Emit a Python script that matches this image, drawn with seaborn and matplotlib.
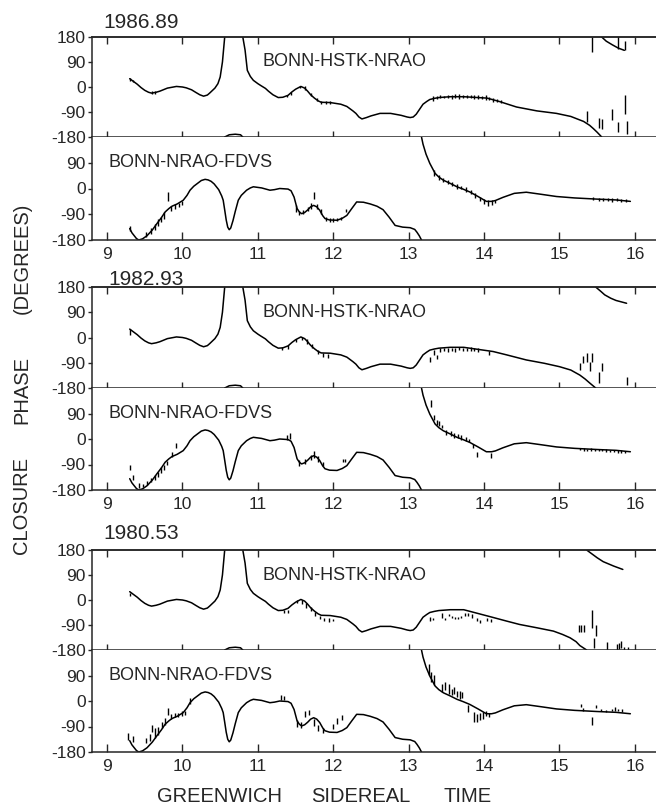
import numpy as np
import pandas as pd
import matplotlib
matplotlib.use("Agg")
import matplotlib.pyplot as plt
import seaborn as sns

# ---------------- data ----------------
epochs = ["1986.89", "1982.93", "1980.53"]
x_ticks = [9, 10, 11, 12, 13, 14, 15, 16]
top_yticks = [180, 90, 0, -90, -180]
bot_yticks = [90, 0, -90, -180]

# model closure phase BONN-HSTK-NRAO (unwrapped, deg), common part
hstk_t = [9.30, 9.35, 9.40, 9.45, 9.50, 9.55, 9.59, 9.65, 9.70, 9.80, 9.92, 10.00, 10.05, 10.12,
          10.18, 10.23, 10.28, 10.33, 10.36, 10.43, 10.47, 10.50, 10.53, 10.56, 10.62, 10.70, 10.77,
          10.80, 10.83, 10.86, 10.90, 10.94, 11.00, 11.04, 11.10, 11.14, 11.20, 11.27, 11.33, 11.40,
          11.45, 11.50, 11.57, 11.62, 11.66, 11.70, 11.75, 11.80, 11.84, 11.96, 12.10, 12.18, 12.22,
          12.26, 12.30, 12.34, 12.38, 12.44, 12.50, 12.62, 12.76, 12.90, 12.98, 13.02, 13.06, 13.10,
          13.15, 13.19, 13.24, 13.28, 13.34, 13.40, 13.55, 13.73]
hstk_p = [30, 20, 10, -2, -12, -19, -22, -19, -15, -4, 2, 0, -3, -10,
          -20, -28, -33, -29, -22, -4, 12, 36, 90, 180, 188, 190, 188,
          180, 133, 60, 38, 24, 12, 5, -5, -15, -28, -38, -37, -30,
          -18, -8, 2, -4, -15, -28, -40, -50, -55, -56, -62, -70, -78,
          -86, -95, -108, -115, -110, -104, -95, -95, -102, -108, -110, -108, -98,
          -78, -62, -52, -45, -41, -38, -35, -35]
# epoch-dependent tails of the HSTK model
hstk_tail_t_1986 = [14.04, 14.20, 14.43, 14.70, 14.96, 15.15, 15.32, 15.40, 15.45, 15.50, 15.56,
                    15.62, 15.70, 15.78, 15.86]
hstk_tail_p_1986 = [-40, -52, -72, -86, -95, -106, -124, -138, -150, -163, -180,
                    -195, -208, -220, -228]
hstk_tail_t_1982 = [14.12, 14.30, 14.56, 14.80, 15.00, 15.15, 15.27, 15.34, 15.40, 15.48, 15.55,
                    15.60, 15.68, 15.75, 15.89]
hstk_tail_p_1982 = [-50, -62, -80, -92, -104, -116, -134, -148, -162, -180, -196,
                    -208, -220, -228, -238]
hstk_tail_t_1980 = [14.08, 14.30, 14.47, 14.70, 14.92, 15.04, 15.14, 15.22, 15.27, 15.36, 15.42,
                    15.50, 15.58, 15.72, 15.84]
hstk_tail_p_1980 = [-60, -76, -88, -100, -112, -124, -136, -150, -164, -180, -192,
                    -208, -222, -238, -250]

# model closure phase BONN-NRAO-FDVS (unwrapped, deg)
fdvs_t = [9.30, 9.33, 9.36, 9.39, 9.42, 9.47, 9.53, 9.60, 9.66, 9.72, 9.77, 9.82, 9.86, 9.93,
          10.01, 10.06, 10.10, 10.15, 10.20, 10.25, 10.30, 10.34, 10.38, 10.42, 10.45, 10.48, 10.50,
          10.52, 10.54, 10.56, 10.58, 10.60, 10.62, 10.64, 10.67, 10.70, 10.74, 10.78, 10.85, 10.90,
          10.94, 11.05, 11.16, 11.22, 11.29, 11.40, 11.44, 11.48, 11.52, 11.55, 11.58, 11.62, 11.66,
          11.70, 11.74, 11.78, 11.82, 11.86, 11.89, 11.95, 12.05, 12.12, 12.18, 12.24, 12.31, 12.40,
          12.49, 12.58, 12.66, 12.74, 12.82, 12.92, 13.02, 13.08, 13.11, 13.14, 13.17, 13.19, 13.23,
          13.28, 13.35, 13.40, 13.46, 13.55, 13.64, 13.72, 13.81, 13.92, 14.03, 14.10, 14.15, 14.25,
          14.40, 14.56, 14.75, 14.96, 15.20, 15.49, 15.75, 15.94]
fdvs_p = [-140, -155, -165, -175, -180, -176, -165, -145, -123, -102, -82, -70, -62, -54,
          -41, -24, -6, 8, 18, 28, 32, 30, 25, 16, 6, -4, -15,
          -26, -41, -75, -110, -135, -144, -138, -112, -80, -41, -24, -6, 2,
          6, 2, -6, -4, 0, -2, -8, -30, -70, -82, -88, -84, -75,
          -64, -59, -64, -76, -95, -105, -110, -111, -104, -94, -72, -47, -48,
          -54, -62, -74, -100, -129, -135, -137, -143, -153, -165, -180, -205, -240,
          -272, -307, -320, -331, -342, -354, -362, -372, -388, -405, -405, -402, -391,
          -377, -373, -380, -388, -393, -397, -400, -405]

# measured closure phases (time, phase, half error bar)
d86h_t = [9.31, 9.35, 9.60, 9.64, 11.38, 11.44, 11.56, 11.62, 11.70, 11.78, 11.84, 11.90, 11.96,
          13.32, 13.37, 13.42, 13.47, 13.52, 13.57, 13.62, 13.67, 13.72, 13.77, 13.82, 13.87, 13.92,
          13.97, 14.02, 14.07, 14.12, 14.17, 14.22, 15.36, 15.43, 15.53, 15.56, 15.70, 15.77, 15.77,
          15.87, 15.87, 15.90]
d86h_p = [28, 22, -20, -19, -32, -24, 0, -4, -28, -46, -56, -56, -55,
          -42, -38, -34, -36, -33, -36, -32, -34, -35, -33, -34, -36, -35,
          -37, -38, -42, -46, -48, -52, -106, 152, -128, -133, -98, -145, 160,
          -62, 150, -145]
d86h_e = [6, 5, 5, 5, 5, 5, 5, 6, 6, 6, 5, 5, 5,
          8, 6, 7, 5, 6, 7, 6, 8, 6, 6, 7, 6, 8,
          6, 9, 6, 7, 6, 6, 20, 27, 18, 18, 20, 18, 22,
          35, 15, 23]

d86f_t = [9.30, 9.52, 9.58, 9.63, 9.68, 9.72, 9.76, 9.81, 9.85, 9.90, 9.95, 10.00, 11.50, 11.55,
          11.60, 11.66, 11.70, 11.74, 11.78, 11.84, 11.90, 11.95, 12.00, 12.05, 12.10, 12.17, 13.33,
          13.40, 13.46, 13.52, 13.58, 13.64, 13.70, 13.76, 13.82, 13.88, 13.94, 14.00, 14.05, 14.10,
          14.15, 15.45, 15.52, 15.58, 15.64, 15.70, 15.76, 15.82, 15.88]
d86f_p = [-140, -160, -148, -135, -120, -108, -95, -27, -70, -62, -58, -50, -70, -85,
          -82, -72, -62, -24, -62, -80, -106, -110, -110, -108, -104, -76, 55,
          38, 30, 22, 15, 8, 3, -4, -12, -24, -36, -46, -50, -48,
          -45, -36, -37, -38, -37, -40, -39, -41, -42]
d86f_e = [8, 8, 10, 10, 12, 10, 12, 15, 10, 8, 8, 8, 12, 8,
          8, 8, 10, 12, 8, 8, 8, 6, 6, 6, 6, 6, 10,
          8, 6, 8, 6, 8, 6, 8, 6, 8, 8, 8, 10, 8,
          6, 5, 5, 6, 5, 6, 5, 6, 5]

d82h_t = [9.30, 11.32, 11.40, 11.50, 11.58, 11.65, 11.72, 11.80, 11.87, 11.93, 13.28, 13.33, 13.37,
          13.42, 13.47, 13.52, 13.57, 13.62, 13.67, 13.72, 13.77, 13.82, 13.87, 13.92, 14.07, 15.27,
          15.31, 15.36, 15.40, 15.43, 15.53, 15.57, 15.90]
d82h_p = [20, -40, -34, -10, -4, -14, -30, -52, -62, -66, -77, -53, -70,
          -44, -42, -45, -42, -44, -40, -42, -43, -41, -44, -45, -55, -104,
          -79, -71, -102, -71, -142, -104, -155]
d82h_e = [10, 5, 6, 6, 6, 8, 8, 8, 8, 6, 9, 9, 6,
          6, 5, 6, 5, 6, 5, 6, 5, 6, 5, 6, 6, 12,
          13, 15, 16, 15, 20, 14, 15]

d82f_t = [9.31, 9.35, 9.42, 9.48, 9.53, 9.58, 9.63, 9.68, 9.72, 9.76, 9.80, 9.86, 9.92, 11.38,
          11.42, 11.55, 11.62, 11.70, 11.75, 11.80, 11.86, 12.13, 12.16, 13.29, 13.33, 13.37, 13.40,
          13.44, 13.50, 13.56, 13.60, 13.65, 13.69, 13.76, 13.80, 13.85, 13.91, 14.09, 15.27, 15.32,
          15.37, 15.42, 15.47, 15.52, 15.57, 15.62, 15.67, 15.72, 15.77, 15.82, 15.87]
d82f_p = [-100, -136, -165, -165, -155, -145, -135, -125, -110, -100, -85, -55, -23, 5,
          10, -85, -80, -65, -55, -70, -88, -76, -76, 125, 75, 58, 55,
          45, 22, 18, 12, 12, 5, 0, -5, -25, -55, -58, -36, -37,
          -38, -37, -39, -40, -38, -41, -42, -42, -44, -44, -45]
d82f_e = [8, 8, 8, 6, 6, 8, 8, 8, 10, 10, 8, 10, 8, 10,
          10, 10, 8, 10, 12, 10, 8, 6, 6, 12, 9, 9, 9,
          6, 9, 9, 8, 7, 8, 7, 6, 8, 8, 8, 4, 4,
          4, 4, 4, 4, 4, 4, 4, 4, 4, 4, 4]

d80h_t = [9.30, 11.35, 11.40, 11.52, 11.58, 11.64, 11.70, 11.76, 11.82, 11.88, 11.94, 12.00, 13.28,
          13.32, 13.44, 13.48, 13.53, 13.57, 13.61, 13.66, 13.70, 13.75, 13.79, 13.84, 13.90, 13.95,
          14.04, 14.09, 15.26, 15.29, 15.32, 15.43, 15.46, 15.49, 15.63, 15.76, 15.79, 15.81, 15.85,
          15.91]
d80h_p = [20, -42, -40, -5, -8, -20, -32, -50, -62, -70, -72, -72, -67,
          -68, -57, -68, -55, -60, -65, -64, -60, -52, -52, -57, -70, -76,
          -70, -73, -102, -102, -102, -69, -156, -110, -165, -170, -165, -160, -176,
          -178]
d80h_e = [6, 5, 5, 6, 8, 8, 8, 8, 6, 6, 6, 5, 7,
          5, 9, 5, 4, 4, 4, 4, 4, 5, 4, 6, 5, 5,
          5, 6, 12, 12, 12, 33, 18, 20, 15, 10, 12, 14, 8,
          8]

d80f_t = [9.28, 9.35, 9.52, 9.57, 9.59, 9.64, 9.68, 9.73, 9.77, 9.81, 9.85, 9.90, 9.94, 9.99,
          10.03, 10.10, 11.30, 11.35, 11.52, 11.57, 11.63, 11.68, 11.75, 11.80, 11.86, 12.00, 12.05,
          12.12, 13.27, 13.30, 13.33, 13.44, 13.48, 13.53, 13.57, 13.60, 13.64, 13.68, 13.71, 13.79,
          13.86, 13.90, 13.94, 13.98, 14.03, 14.07, 15.28, 15.31, 15.43, 15.49, 15.55, 15.62, 15.69,
          15.73, 15.77, 15.83]
d80f_p = [-126, -133, -140, -130, -97, -113, -105, -85, -72, -37, -55, -50, -50, -45,
          -42, 0, 12, 10, -78, -85, -45, -40, -75, -95, -105, -90, -70,
          -58, 112, 85, 75, 46, 52, 42, 32, 38, 25, 20, 22, -27,
          -56, -60, -55, -50, -45, -50, -15, -30, -70, -20, -32, -34, -32,
          -28, -32, -34]
d80f_e = [12, 10, 9, 12, 12, 18, 15, 12, 12, 12, 10, 8, 8, 8,
          6, 9, 8, 8, 12, 10, 10, 10, 12, 12, 8, 10, 10,
          8, 20, 18, 18, 15, 14, 18, 12, 12, 12, 14, 10, 12,
          18, 14, 12, 12, 8, 8, 6, 6, 14, 5, 5, 4, 5,
          7, 5, 6]


# ---------------- helpers ----------------
def wrap_segments(t, p):
    """Split an unwrapped phase track into segments inside [-180, 180]."""
    rows = []
    seg = 0

    def k_of(v):
        return int(np.floor((v + 180.0) / 360.0))

    def w(v):
        return v - 360.0 * k_of(v)

    rows.append((t[0], w(p[0]), seg))
    for i in range(1, len(t)):
        k0, k1 = k_of(p[i - 1]), k_of(p[i])
        if k1 != k0:
            b = -180.0 + 360.0 * max(k0, k1)
            tc = t[i - 1] + (b - p[i - 1]) * (t[i] - t[i - 1]) / (p[i] - p[i - 1])
            if k1 > k0:
                rows.append((tc, 180.0, seg))
                seg += 1
                rows.append((tc, -180.0, seg))
            else:
                rows.append((tc, -180.0, seg))
                seg += 1
                rows.append((tc, 180.0, seg))
        rows.append((t[i], w(p[i]), seg))
    return pd.DataFrame(rows, columns=["t", "phase", "seg"])


# ---------------- style ----------------
sns.set_style("ticks")
plt.rcParams["font.family"] = ["Liberation Sans", "DejaVu Sans"]
plt.rcParams["axes.unicode_minus"] = False
plt.rcParams["axes.linewidth"] = 1.1
plt.rcParams["lines.solid_joinstyle"] = "round"

W, H = 656, 810
fig = plt.figure(figsize=(W / 100, H / 100), dpi=100)

tops = [37, 287, 550]
mids = [137, 388, 650]
bots = [240, 490, 752]
year_pos = [(103, 28), (108, 285), (103, 539)]
left_px = 92

hstk_tails = [(hstk_tail_t_1986, hstk_tail_p_1986),
              (hstk_tail_t_1982, hstk_tail_p_1982),
              (hstk_tail_t_1980, hstk_tail_p_1980)]
hstk_data = [(d86h_t, d86h_p, d86h_e), (d82h_t, d82h_p, d82h_e), (d80h_t, d80h_p, d80h_e)]
fdvs_data = [(d86f_t, d86f_p, d86f_e), (d82f_t, d82f_p, d82f_e), (d80f_t, d80f_p, d80f_e)]

XMIN, XMAX = 8.80, 16.28
TICK_FS = 12.5


def rect(top, bottom):
    return [left_px / W, 1 - bottom / H, (W - left_px) / W, (bottom - top) / H]


for g in range(3):
    ax_t = fig.add_axes(rect(tops[g], mids[g]))
    ax_b = fig.add_axes(rect(mids[g], bots[g]))

    # models
    tt = hstk_t + hstk_tails[g][0]
    pp = hstk_p + hstk_tails[g][1]
    df_h = wrap_segments(tt, pp)
    sns.lineplot(data=df_h, x="t", y="phase", units="seg", estimator=None, sort=False,
                 color="black", lw=1.1, ax=ax_t, legend=False)
    df_f = wrap_segments(fdvs_t, fdvs_p)
    sns.lineplot(data=df_f, x="t", y="phase", units="seg", estimator=None, sort=False,
                 color="black", lw=1.1, ax=ax_b, legend=False)

    # data with error bars
    for ax, (dt, dp, de) in ((ax_t, hstk_data[g]), (ax_b, fdvs_data[g])):
        ax.errorbar(dt, dp, yerr=de, fmt="none", ecolor="black", elinewidth=1.0, capsize=0)

    for ax in (ax_t, ax_b):
        ax.set_xlim(XMIN, XMAX)
        ax.set_ylim(-180, 180)
        ax.set_xlabel("")
        ax.set_ylabel("")
        ax.spines["right"].set_visible(False)
        ax.set_xticks(x_ticks)
        ax.tick_params(axis="y", direction="out", length=3, width=1.0, pad=1.5,
                       labelsize=TICK_FS, left=True, right=False)

    # top panel
    ax_t.set_yticks(top_yticks)
    ax_t.set_yticklabels([str(v) for v in top_yticks])
    ax_t.tick_params(axis="x", direction="inout", length=8, width=1.0, bottom=True, top=False,
                     labelbottom=False, labeltop=False)
    sec = ax_t.secondary_xaxis("top")
    sec.set_xticks(x_ticks)
    sec.tick_params(axis="x", direction="in", length=5, width=1.0, labeltop=False)
    sec.set_xticklabels([])

    # bottom panel
    ax_b.spines["top"].set_visible(False)
    ax_b.set_yticks(bot_yticks)
    ax_b.set_yticklabels([str(v) for v in bot_yticks])
    ax_b.tick_params(axis="x", direction="in", length=6, width=1.0, bottom=True, top=False,
                     labelbottom=True, labelsize=TICK_FS, pad=5)
    ax_b.set_xticklabels([str(v) for v in x_ticks])

    ax_t.text(11.06, 90, "BONN-HSTK-NRAO", fontsize=13, va="center", ha="left")
    ax_b.text(9.02, 90, "BONN-NRAO-FDVS", fontsize=13, va="center", ha="left")

    yx, yy = year_pos[g]
    fig.text(yx / W, 1 - yy / H, epochs[g], fontsize=15, ha="left", va="baseline")

# axis titles
for word, yc in (("(DEGREES)", 258), ("PHASE", 390), ("CLOSURE", 505)):
    fig.text(22 / W, 1 - yc / H, word, rotation=90, ha="center", va="center", fontsize=14.5)
for word, xc in (("GREENWICH", 220), ("SIDEREAL", 361), ("TIME", 468)):
    fig.text(xc / W, 1 - 797 / H, word, ha="center", va="center", fontsize=14.5)

fig.savefig("out.png", dpi=100)
